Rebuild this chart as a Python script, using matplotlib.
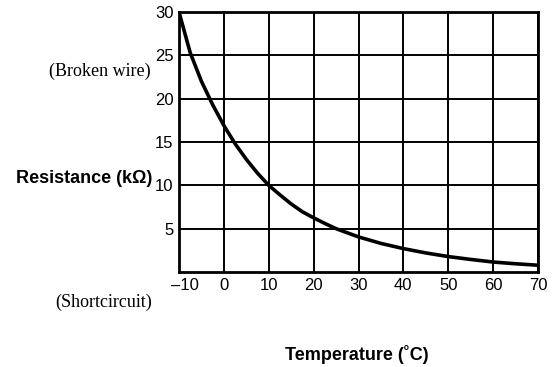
import matplotlib
matplotlib.use("Agg")
import matplotlib.pyplot as plt
from matplotlib.transforms import ScaledTranslation

temps = [-10, -7.5, -5, -2.5, 0, 2.5, 5, 7.5, 10, 12.5, 15, 17.5, 20, 22.5, 25,
         30, 35, 40, 45, 50, 55, 60, 65, 70]
resistance = [30, 25.3, 22.0, 19.3, 16.9, 14.8, 13.0, 11.4, 10.0, 8.9, 7.85, 6.95, 6.25, 5.6, 5.0,
              4.05, 3.3, 2.7, 2.2, 1.78, 1.45, 1.15, 0.95, 0.78]

xticks = [-10, 0, 10, 20, 30, 40, 50, 60, 70]
xtick_labels = ["\u201310", "0", "10", "20", "30", "40", "50", "60", "70"]
yticks = [5, 10, 15, 20, 25, 30]
ytick_labels = ["5", "10", "15", "20", "25", "30"]

sans = ["Liberation Sans", "DejaVu Sans"]
serif = ["Liberation Serif", "DejaVu Serif"]

fig = plt.figure(figsize=(5.56, 3.67), dpi=100)
ax = fig.add_axes([179/556, 1-272/367, (538-179)/556, (272-12)/367])

ax.plot(temps, resistance, color="black", lw=2.6, solid_capstyle="butt",
        solid_joinstyle="round")
ax.set_xlim(-10, 70)
ax.set_ylim(0, 30)
ax.set_xticks(xticks)
ax.set_xticklabels(xtick_labels, fontfamily=sans, fontsize=12)
ax.set_yticks(yticks)
ax.set_yticklabels(ytick_labels, fontfamily=sans, fontsize=12)
ax.tick_params(axis="y", length=0, pad=4)
ax.tick_params(axis="x", length=0, pad=4)
ax.grid(True, color="black", lw=1.4)
ax.set_axisbelow(True)
for s in ax.spines.values():
    s.set_linewidth(2)

first = ax.get_xticklabels()[0]
first.set_transform(first.get_transform() + ScaledTranslation(6/100, 0, fig.dpi_scale_trans))

fig.text(151/556, 1-71/367, "(Broken wire)", ha="right", va="center",
         fontfamily=serif, fontsize=13)
fig.text(152/556, 1-178/367, "Resistance (k\u03a9)", ha="right", va="center",
         fontfamily=sans, fontsize=13, fontweight="bold")
fig.text(152/556, 1-302/367, "(Shortcircuit)", ha="right", va="center",
         fontfamily=serif, fontsize=13)
fig.text(357/556, 1-355/367, "Temperature (\u02daC)", ha="center", va="center",
         fontfamily=sans, fontsize=13, fontweight="bold")

fig.savefig("out.png", dpi=100, facecolor="white")
